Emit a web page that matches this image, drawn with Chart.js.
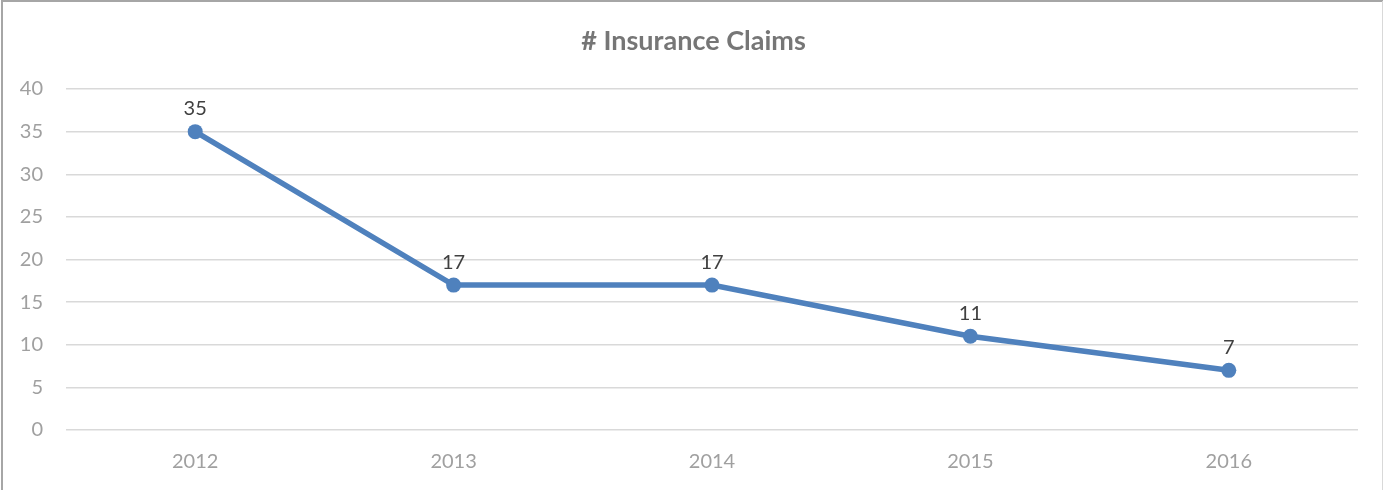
<!DOCTYPE html>
<html>
<head>
<meta charset="utf-8">
<script src="https://cdn.jsdelivr.net/npm/chart.js@4"></script>
<style>
  body { margin: 0; background: #fff; }
  #wrap { width: 1387px; height: 490px; position: relative; }
</style>
</head>
<body>
<div id="wrap"><canvas id="claimsChart" width="1387" height="490"></canvas></div>
<script>
// данные
const years = ['2012', '2013', '2014', '2015', '2016'];
const claims = [35, 17, 17, 11, 7];
const yTicks = [0, 5, 10, 15, 20, 25, 30, 35, 40];
const chartTitle = '# Insurance Claims';

const fontFamily = 'Lato, "Open Sans", sans-serif';

// подписи значений над точками
const valueLabels = {
    id: 'valueLabels',
    afterDatasetsDraw(chart) {
        const ctx = chart.ctx;
        const meta = chart.getDatasetMeta(0);
        ctx.save();
        ctx.font = '20px ' + fontFamily;
        ctx.fillStyle = '#404040';
        ctx.textAlign = 'center';
        ctx.textBaseline = 'middle';
        meta.data.forEach((pt, i) => {
            ctx.fillText(String(claims[i]), pt.x, pt.y - 23);
        });
        ctx.restore();
    }
};

// заголовок по центру холста + рамка
const frame = {
    id: 'frame',
    afterDraw(chart) {
        const ctx = chart.ctx;
        ctx.save();
        ctx.font = 'bold 27px ' + fontFamily;
        ctx.fillStyle = '#767676';
        ctx.textAlign = 'center';
        ctx.textBaseline = 'middle';
        ctx.fillText(chartTitle, chart.width / 2, 41);

        ctx.strokeStyle = '#a6a6a6';
        ctx.lineWidth = 2;
        ctx.beginPath();
        ctx.moveTo(2, 490);
        ctx.lineTo(2, 1);
        ctx.lineTo(1383, 1);
        ctx.stroke();
        ctx.strokeStyle = '#d9d9d9';
        ctx.lineWidth = 1;
        ctx.beginPath();
        ctx.moveTo(1382.5, 1);
        ctx.lineTo(1382.5, 490);
        ctx.stroke();
        ctx.restore();
    }
};

const claimsChart = new Chart(document.getElementById('claimsChart'), {
    type: 'line',
    data: {
        labels: years,
        datasets: [{
            label: chartTitle,
            data: claims,
            borderColor: '#4f81bd',
            backgroundColor: '#4f81bd',
            borderWidth: 5.5,
            pointRadius: 7.5,
            pointHoverRadius: 7.5,
            pointBackgroundColor: '#4f81bd',
            pointBorderWidth: 0,
            tension: 0
        }]
    },
    options: {
        responsive: false,
        animation: false,
        devicePixelRatio: 1,
        layout: { padding: { top: 89, right: 29, bottom: 0, left: 0 } },
        scales: {
            x: {
                offset: true,
                grid: { display: false, drawTicks: false },
                border: { display: false },
                ticks: {
                    color: '#a0a0a0',
                    padding: 20,
                    maxRotation: 0,
                    font: { family: fontFamily, size: 20 }
                },
                afterFit(scale) { scale.height = 60; }
            },
            y: {
                min: 0,
                max: 40,
                afterBuildTicks(scale) {
                    scale.ticks = yTicks.map(v => ({ value: v }));
                },
                grid: { color: '#d9d9d9', lineWidth: 1.5, drawTicks: false },
                border: { display: false },
                ticks: {
                    color: '#a0a0a0',
                    padding: 23,
                    font: { family: fontFamily, size: 20 }
                },
                afterFit(scale) { scale.width = 66; }
            }
        },
        plugins: {
            legend: { display: false },
            tooltip: { enabled: false },
            title: { display: false }
        }
    },
    plugins: [valueLabels, frame]
});
</script>
</body>
</html>
